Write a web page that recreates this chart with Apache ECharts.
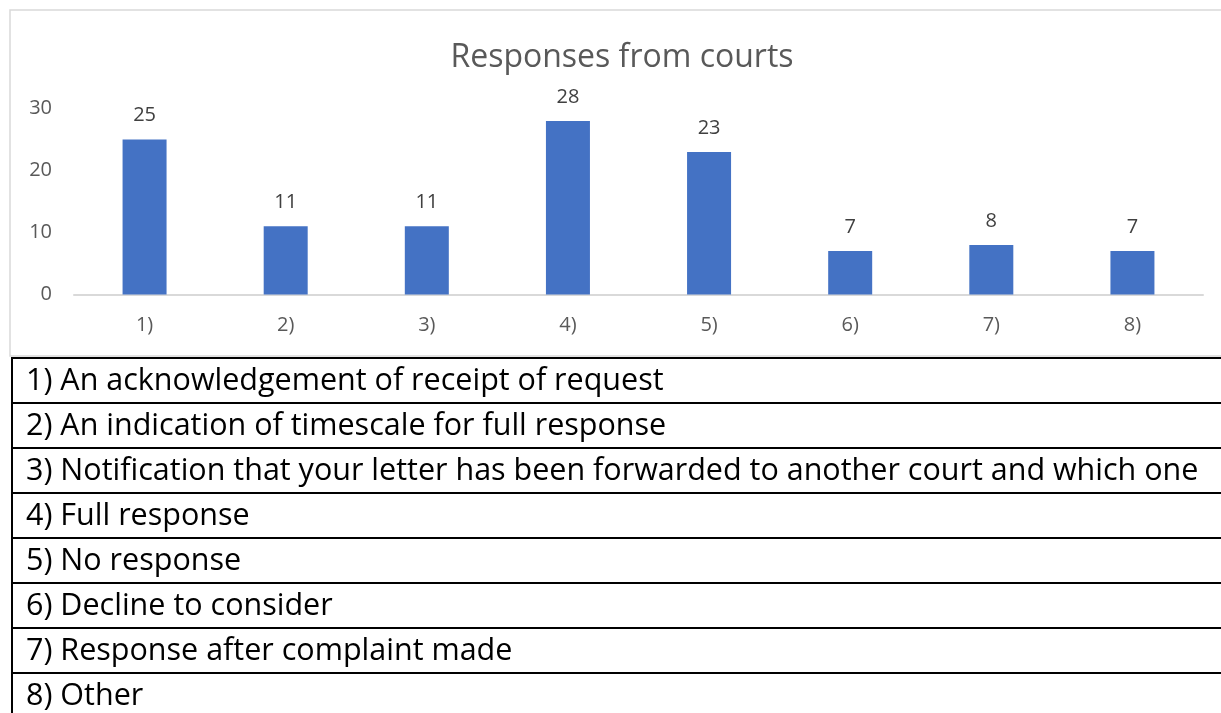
<!DOCTYPE html>
<html>
<head>
<meta charset="utf-8">
<script src="https://cdn.jsdelivr.net/npm/echarts@6/dist/echarts.min.js"></script>
<style>
  html, body { margin: 0; padding: 0; background: #fff; }
  #main { width: 1221px; height: 713px; }
</style>
</head>
<body>
<div id="main"></div>
<script>
const categories = ['1)', '2)', '3)', '4)', '5)', '6)', '7)', '8)'];
const responses = [25, 11, 11, 28, 23, 7, 8, 7];
const yTicks = [0, 10, 20, 30];
const legendRows = [
  '1) An acknowledgement of receipt of request',
  '2) An indication of timescale for full response',
  '3) Notification that your letter has been forwarded to another court and which one',
  '4) Full response',
  '5) No response',
  '6) Decline to consider',
  '7) Response after complaint made',
  '8) Other'
];

const myChart = echarts.init(document.getElementById('main'));

// table under the chart
const tableTop = 358;
const rowH = 45;
const graphics = [
  // light frame round the chart
  {
    type: 'rect',
    shape: { x: 10, y: 10, width: 1230, height: 346 },
    style: { fill: null, stroke: '#d9d9d9', lineWidth: 1.5 },
    silent: true
  },
  {
    type: 'line',
    shape: { x1: 12, y1: tableTop, x2: 12, y2: 713 },
    style: { stroke: '#000', lineWidth: 2 }
  }
];
legendRows.forEach(function (txt, i) {
  const y = tableTop + i * rowH;
  graphics.push({
    type: 'line',
    shape: { x1: 11, y1: y, x2: 1221, y2: y },
    style: { stroke: '#000', lineWidth: 2 }
  });
  graphics.push({
    type: 'text',
    x: 26,
    y: y + rowH / 2 + 1,
    style: {
      text: txt,
      font: '30.5px "Open Sans"',
      fill: '#000',
      textVerticalAlign: 'middle'
    }
  });
});

const option = {
  animation: false,
  title: {
    text: 'Responses from courts',
    left: 617,
    top: 37,
    textAlign: 'center',
    textStyle: {
      fontFamily: 'Open Sans',
      fontSize: 32,
      fontWeight: 'normal',
      color: '#595959'
    }
  },
  grid: { left: 74, right: 18, top: 108.5, bottom: 418.5 },
  xAxis: {
    type: 'category',
    data: categories,
    axisLine: { lineStyle: { color: '#d9d9d9', width: 2 } },
    axisTick: { show: false },
    axisLabel: { color: '#595959', fontSize: 20, fontFamily: 'Open Sans', margin: 21 }
  },
  yAxis: {
    type: 'value',
    min: yTicks[0],
    max: yTicks[yTicks.length - 1],
    interval: 10,
    splitLine: { show: false },
    axisLine: { show: false },
    axisTick: { show: false },
    axisLabel: { color: '#595959', fontSize: 20, fontFamily: 'Open Sans', margin: 22 }
  },
  series: [{
    type: 'bar',
    data: responses,
    barWidth: 44,
    itemStyle: { color: '#4472c4' },
    label: {
      show: true,
      position: 'top',
      distance: 14,
      color: '#404040',
      fontSize: 20,
      fontFamily: 'Open Sans'
    }
  }],
  graphic: graphics
};

myChart.setOption(option);
</script>
</body>
</html>
